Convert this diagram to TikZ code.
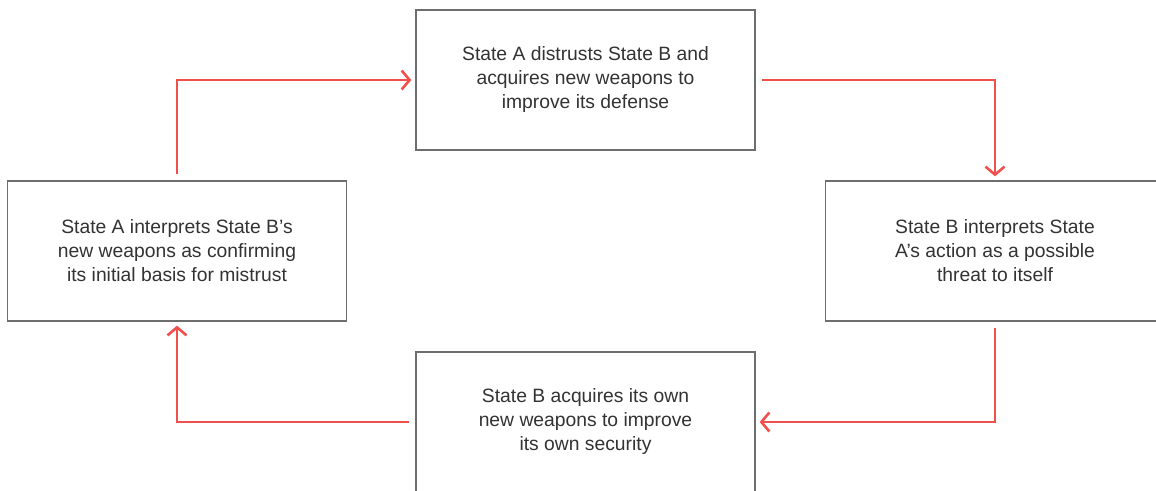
\documentclass[tikz,border=0pt]{standalone}
\usepackage{fontspec}
\setmainfont{Liberation Sans}
\usetikzlibrary{arrows.meta}
\definecolor{loopred}{HTML}{F0504D}
\definecolor{boxgray}{HTML}{6E6E6E}
\definecolor{txtgray}{HTML}{333333}

\begin{document}
\begin{tikzpicture}[x=1pt,y=-1pt,every node/.style={font=\fontsize{19.3}{24}\selectfont,text=txtgray},
 step box/.style={rectangle,draw=boxgray,line width=1.3pt,fill=white,minimum width=339pt,minimum height=140pt,align=center},
 link/.style={draw=loopred,line width=2.6pt,-{Straight Barb[length=8pt,width=19pt,line width=2.6pt]},shorten <=6pt,shorten >=4pt}]
\useasboundingbox (0,0) rectangle (1156,490);
\clip (0,0) rectangle (1156,490);
\node[step box] (distrust) at (585.5,80) {State A distrusts State B and\\acquires new weapons to\\improve its defense};
\node[step box] (threat) at (995,251) {State B interprets State\\A's action as a possible\\threat to itself};
\node[step box] (acquire) at (585.5,422) {State B acquires its own\\new weapons to improve\\its own security};
\node[step box] (confirm) at (177,251) {State A interprets State B's\\new weapons as confirming\\its initial basis for mistrust};
\draw[link] (confirm.north) |- (distrust.west);
\draw[link] (distrust.east) -| (threat.north);
\draw[link] (threat.south) |- (acquire.east);
\draw[link] (acquire.west) -| (confirm.south);
\end{tikzpicture}
\end{document}
